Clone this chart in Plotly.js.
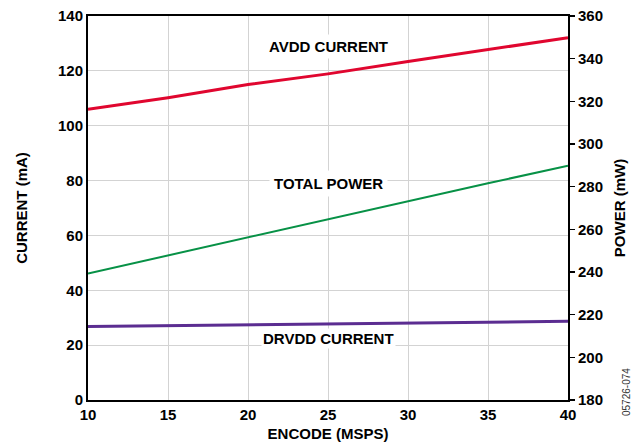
<!DOCTYPE html>
<html>
<head>
<meta charset="utf-8">
<script src="https://cdn.plot.ly/plotly-3.0.1.min.js"></script>
<style>html,body{margin:0;padding:0;background:#fff;}#chart{width:631px;height:442px;}</style>
</head>
<body>
<div id="chart"></div>
<script>
const encode = [10, 15, 20, 25, 30, 35, 40];
const avddCurrent = [106.0, 110.2, 115.0, 118.9, 123.4, 127.8, 132.1];
const totalPower = [239.3, 247.8, 256.4, 264.7, 273.1, 281.6, 289.8];
const drvddCurrent = [26.8, 27.1, 27.4, 27.7, 28.0, 28.4, 28.7];
const xTicks = [10, 15, 20, 25, 30, 35, 40];
const yTicks = [0, 20, 40, 60, 80, 100, 120, 140];
const y2Ticks = [180, 200, 220, 240, 260, 280, 300, 320, 340, 360];

const FAM = 'Liberation Sans, Arial, sans-serif';
const bold = {family: FAM, size: 15, color: '#000', weight: 'bold'};

const traces = [
  {x: encode, y: avddCurrent, mode: 'lines', line: {color: '#e0062f', width: 3}, yaxis: 'y', hoverinfo: 'skip'},
  {x: encode, y: totalPower, mode: 'lines', line: {color: '#079146', width: 2}, yaxis: 'y2', hoverinfo: 'skip'},
  {x: encode, y: drvddCurrent, mode: 'lines', line: {color: '#5b2d91', width: 3}, yaxis: 'y', hoverinfo: 'skip'}
];

const PL = 88, PR = 63, PT = 16, PB = 42, W = 631, H = 442;

const layout = {
  width: W, height: H,
  margin: {l: PL, r: PR, t: PT, b: PB},
  paper_bgcolor: '#fff', plot_bgcolor: '#fff',
  showlegend: false,
  font: bold,
  xaxis: {
    range: [10, 40], tickvals: xTicks, ticktext: xTicks.map(String),
    showgrid: true, gridcolor: '#d3d3d3', gridwidth: 1,
    showline: true, linecolor: '#000', linewidth: 2, mirror: true,
    ticks: '', zeroline: false, tickfont: bold,
    title: {text: 'ENCODE (MSPS)', font: bold, standoff: 9}
  },
  yaxis: {
    range: [0, 140], tickvals: yTicks, ticktext: yTicks.map(String),
    showgrid: true, gridcolor: '#d3d3d3', gridwidth: 1,
    showline: true, linecolor: '#000', linewidth: 2,
    ticks: '', zeroline: false, tickfont: bold,
    title: {text: 'CURRENT (mA)', font: bold, standoff: 27}
  },
  yaxis2: {
    range: [180, 360], tickvals: y2Ticks, ticktext: y2Ticks.map(String),
    overlaying: 'y', side: 'right', showgrid: false,
    showline: true, linecolor: '#000', linewidth: 2,
    ticks: 'outside', ticklen: 5, tickwidth: 1.5, tickcolor: '#000',
    zeroline: false, tickfont: bold,
    title: {text: 'POWER (mW)', font: bold, standoff: 12}
  },
  annotations: [
    {x: 25, y: 129, xref: 'x', yref: 'y', text: 'AVDD CURRENT', showarrow: false, font: bold, bgcolor: '#fff', borderpad: 3},
    {x: 25, y: 79, xref: 'x', yref: 'y', text: 'TOTAL POWER', showarrow: false, font: bold, bgcolor: '#fff', borderpad: 4},
    {x: 25, y: 22.5, xref: 'x', yref: 'y', text: 'DRVDD CURRENT', showarrow: false, font: bold, bgcolor: '#fff', borderpad: 1},
    {x: (626 - PL) / (W - PL - PR), y: (H - PB - 392) / (H - PT - PB), xref: 'paper', yref: 'paper',
     xanchor: 'center', yanchor: 'middle', text: '05726-074', showarrow: false, textangle: -90,
     font: {family: FAM, size: 10, color: '#333', weight: 'normal'}}
  ]
};

Plotly.newPlot('chart', traces, layout, {displayModeBar: false, staticPlot: true});
</script>
</body>
</html>
